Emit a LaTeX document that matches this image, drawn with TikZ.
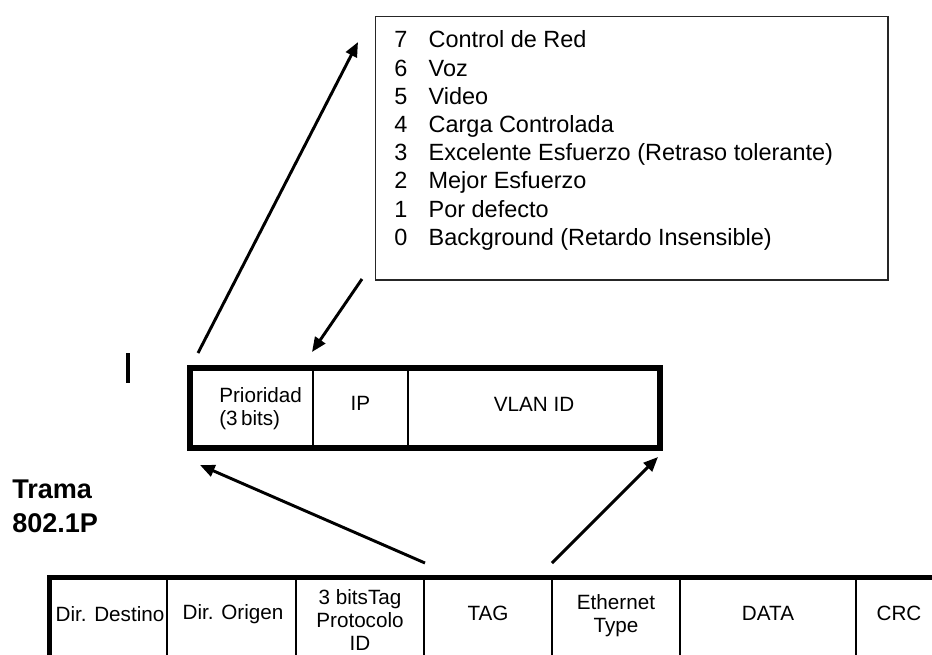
\documentclass[tikz,border=0pt]{standalone}
\usepackage{fontspec}
\setmainfont{Liberation Sans}
\usetikzlibrary{arrows.meta}
\tikzset{
  frame/.style={draw=black, line width=4.5pt},
  cellsep/.style={draw=black, line width=1.5pt},
  legendbox/.style={draw=black!85, line width=1.2pt},
  cell/.style={font=\fontsize{15.5}{17.25}\selectfont, inner sep=0pt, align=center},
  link/.style={draw=black, line width=2.2pt, -{Triangle[length=11pt,width=9pt]}}
}
\begin{document}
\begin{tikzpicture}[x=0.75pt,y=-0.75pt]
\useasboundingbox (0,0) rectangle (932,654);

% legend box with the priority classes
\draw[legendbox] (375.5,16.5) rectangle (888,280);
\node[inner sep=0pt, anchor=north west,
      font=\fontsize{17.6}{21.15}\selectfont] (legend) at (394,27.8)
  {\begin{tabular}{@{}l@{\hspace{16pt}}l@{}}
   7 & Control de Red\\
   6 & Voz\\
   5 & Video\\
   4 & Carga Controlada\\
   3 & Excelente Esfuerzo (Retraso tolerante)\\
   2 & Mejor Esfuerzo\\
   1 & Por defecto\\
   0 & Background (Retardo Insensible)
   \end{tabular}};

% tag field box
\draw[frame] (190,368) rectangle (660,448);
\draw[cellsep] (313,368) -- (313,448);
\draw[cellsep] (408,368) -- (408,448);
\node[cell, align=left, anchor=west] (prio) at (219,408.5) {Prioridad\\(3\,bits)};
\node[cell] (ip) at (360.5,403) {IP};
\node[cell] (vlan) at (534,404) {VLAN ID};

% short stray bar
\draw[line width=2.6pt] (128,353) -- (128,383);

% frame title
\node[inner sep=0pt, anchor=west, align=left, font=\bfseries\fontsize{20.3}{25.5}\selectfont]
  (title) at (12,506) {Trama\\802.1P};

% bottom frame table
\begin{scope}
\clip (0,0) rectangle (932,654);
\draw[frame, line width=3.8pt] (49.5,700) -- (49.5,577.5) -- (940,577.5);
\foreach \xx in {167,296,424,552,680,856}
  \draw[cellsep] (\xx,577.5) -- (\xx,700);
\end{scope}
\node[cell] (dst) at (110,614) {Dir. Destino};
\node[cell] (src) at (233,614) {Dir. Origen};
\node[cell] (tpid) at (360,620) {3 bitsTag\\Protocolo\\ID};
\node[cell] (tag) at (488,613) {TAG};
\node[cell] (eth) at (616,616) {Ethernet\\Type};
\node[cell] (data) at (768,613) {DATA};
\node[cell] (crc) at (899,613) {CRC};

% arrow end points
\coordinate (p1) at (198,353);
\coordinate (q1) at (358,42);
\coordinate (p2) at (362,279);
\coordinate (q2) at (312,352);
\coordinate (p3) at (425,563);
\coordinate (q3) at (200,465);
\coordinate (p4) at (552,563);
\coordinate (q4) at (658,457);

\draw[link] (p1) -- (q1);
\draw[link] (p2) -- (q2);
\draw[link] (p3) -- (q3);
\draw[link] (p4) -- (q4);
\end{tikzpicture}
\end{document}
